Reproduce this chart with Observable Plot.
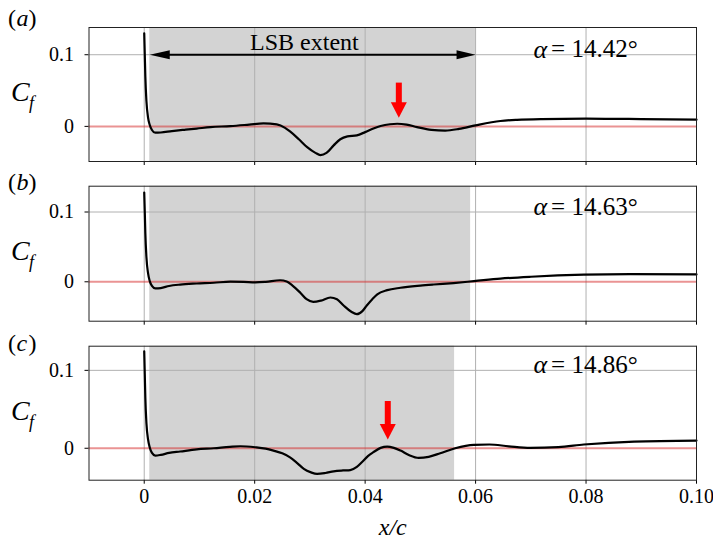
<!DOCTYPE html>
<html><head><meta charset="utf-8">
<script src="https://cdn.jsdelivr.net/npm/d3@7"></script>
<script src="https://cdn.jsdelivr.net/npm/@observablehq/plot@0.6"></script>
<style>
body{margin:0;background:#fff;}
#chart{width:713px;}
#chart svg{display:block;}
</style></head><body><div id="chart"></div>
<script>
// ---- data ----
const xA = [0,0.0001,0.0002,0.0004,0.0007,0.001,0.0014,0.002,0.003,0.005,0.0075,0.0095,0.012,0.0156,0.019,0.0216,0.024,0.0255,0.0264,0.028,0.0295,0.031,0.0319,0.033,0.0343,0.0355,0.0368,0.0385,0.040,0.0415,0.0428,0.0445,0.0458,0.0475,0.0494,0.052,0.0545,0.057,0.060,0.0645,0.0675,0.072,0.080,0.090,0.100];
const cfA = [0.130,0.10,0.07,0.035,0.012,0.002,-0.005,-0.0088,-0.0085,-0.0065,-0.0045,-0.003,-0.001,0.0004,0.0025,0.0042,0.0028,-0.002,-0.007,-0.018,-0.029,-0.037,-0.0400,-0.037,-0.0265,-0.018,-0.014,-0.0125,-0.008,-0.003,0.0005,0.003,0.0037,0.0025,-0.001,-0.0048,-0.0058,-0.0035,0.0014,0.0075,0.0092,0.0102,0.0107,0.0102,0.0093];

const xB = [0,0.0001,0.0002,0.0004,0.0007,0.001,0.0014,0.002,0.003,0.0045,0.0065,0.0095,0.0126,0.0156,0.018,0.0201,0.022,0.0246,0.0258,0.0268,0.0283,0.0294,0.0306,0.032,0.0337,0.0349,0.0361,0.0375,0.0385,0.0395,0.0403,0.0413,0.0422,0.044,0.0464,0.050,0.0524,0.056,0.0597,0.0645,0.070,0.0796,0.088,0.100];
const cfB = [0.128,0.10,0.07,0.035,0.012,0.001,-0.006,-0.0095,-0.009,-0.006,-0.004,-0.0025,-0.0014,0.0003,0.0,-0.0008,0.0,0.0022,0.0005,-0.005,-0.016,-0.025,-0.0288,-0.027,-0.0225,-0.025,-0.034,-0.043,-0.0465,-0.042,-0.034,-0.025,-0.018,-0.012,-0.0086,-0.0055,-0.0039,-0.0018,0.0009,0.0045,0.0072,0.0102,0.011,0.0105];

const xC = [0,0.0001,0.0002,0.0004,0.0007,0.001,0.0014,0.002,0.003,0.0045,0.0065,0.0095,0.0126,0.0155,0.0174,0.0201,0.022,0.0234,0.025,0.0264,0.0277,0.0289,0.0302,0.0313,0.0328,0.0343,0.036,0.0373,0.0385,0.0394,0.0405,0.0415,0.0428,0.044,0.0452,0.0464,0.048,0.0497,0.0515,0.0536,0.0563,0.0597,0.0625,0.066,0.0699,0.075,0.0796,0.0887,0.100];
const cfC = [0.1245,0.095,0.065,0.032,0.011,0.001,-0.006,-0.0094,-0.0085,-0.006,-0.0042,-0.0015,0.0,0.0018,0.0026,0.0013,-0.0005,-0.003,-0.0065,-0.0116,-0.019,-0.0265,-0.031,-0.033,-0.0318,-0.0296,-0.0285,-0.028,-0.024,-0.018,-0.010,-0.005,0.0005,0.0022,0.0005,-0.003,-0.009,-0.0124,-0.011,-0.0064,0.0,0.0044,0.0048,0.0025,0.0005,0.0015,0.0048,0.0086,0.0099];

const panelLetters = ["a","b","c"];
const alphaValues = ["14.42","14.63","14.86"];
const lsbStart = [0.001, 0.001, 0.001];
const lsbEnd = [0.06, 0.0591, 0.0562];
const yDomains = [[-0.049,0.138],[-0.0565,0.137],[-0.041,0.131]];
const xDomain = [-0.01, 0.10];
const xTicks = [0, 0.02, 0.04, 0.06, 0.08, 0.10];
const xTickLabels = ["0","0.02","0.04","0.06","0.08","0.10"];
const yTicks = [0, 0.1];
const yTickLabels = ["0","0.1"];
const redArrowX = [0.0461, null, 0.0441];
const redArrowTop = [0.0604, null, 0.060];
const redArrowTip = [0.0121, null, 0.0112];
const lsbArrowY = 0.1;
const lsbTextX = 0.029;
const lsbLabel = "LSB extent";
const alphaX = 0.08;
const alphaY = 0.1;
const xLabel = "x/c";

// ---- layout ----
const layout = [
  {height:170, marginTop:27, marginBottom:9, labelDy:-9},
  {height:155, marginTop:15.7, marginBottom:4.3, labelDy:-3.5},
  {height:216, marginTop:20.7, marginBottom:61.3, labelDy:-3}
];
const FONT = "Liberation Serif, Times New Roman, serif";

const headLeft = {draw(c){c.moveTo(0,0);c.lineTo(20,-4.5);c.lineTo(20,4.5);c.closePath();}};
const headRight = {draw(c){c.moveTo(0,0);c.lineTo(-19,-4.5);c.lineTo(-19,4.5);c.closePath();}};
const headDown = {draw(c){c.moveTo(0,0);c.lineTo(-8,-15.5);c.lineTo(8,-15.5);c.closePath();}};

const series = [[xA,cfA],[xB,cfB],[xC,cfC]];
const chart = document.getElementById("chart");

series.forEach(([xs, ys], i) => {
  const L = layout[i];
  const data = xs.map((x, j) => ({x, y: ys[j]}));
  const last = i === 2;
  const marks = [
    Plot.rect([0], {x1: () => lsbStart[i], x2: () => lsbEnd[i], y1: () => yDomains[i][0], y2: () => yDomains[i][1], fill: "#d3d3d3"}),
    Plot.ruleX(xTicks, {stroke: "#b0b0b0", strokeWidth: 1}),
    Plot.ruleY([yTicks[1]], {stroke: "#b0b0b0", strokeWidth: 1}),
    Plot.ruleY([yTicks[0]], {stroke: "#d62728", strokeOpacity: 0.5, strokeWidth: 2}),
    Plot.line(data, {x: "x", y: "y", curve: "monotone-x", stroke: "black", strokeWidth: 2.2}),
    Plot.frame({stroke: "#222", strokeWidth: 1}),
    // C_f label
    Plot.text(["C"], {frameAnchor: "left", lineAnchor: "middle", text: d => d, textAnchor: "start", dx: -78, dy: -2.5, fontStyle: "italic", fontSize: 28, fill: "black"}),
    Plot.text(["f"], {frameAnchor: "left", lineAnchor: "middle", text: d => d, textAnchor: "start", dx: -60, dy: 9, fontStyle: "italic", fontSize: 18, fill: "black"}),
    // panel letter
    Plot.text(["("], {frameAnchor: "top-left", lineAnchor: "middle", text: d => d, textAnchor: "start", dx: -81, dy: L.labelDy, fontSize: 24, fill: "black"}),
    Plot.text([panelLetters[i]], {frameAnchor: "top-left", lineAnchor: "middle", text: d => d, textAnchor: "start", dx: -72.5, dy: L.labelDy, fontSize: 24, fontStyle: "italic", fill: "black"}),
    Plot.text([")"], {frameAnchor: "top-left", lineAnchor: "middle", text: d => d, textAnchor: "start", dx: -60.5, dy: L.labelDy, fontSize: 24, fill: "black"}),
    // alpha label
    Plot.text([0], {x: () => alphaX, y: () => alphaY, text: () => "α", textAnchor: "end", dx: -39, dy: -5.5, fontSize: 26, fontStyle: "italic", fill: "black"}),
    Plot.text([0], {x: () => alphaX, y: () => alphaY, text: () => "= " + alphaValues[i] + "°", textAnchor: "start", dx: -35, dy: -5.5, fontSize: 25, fill: "black"})
  ];
  if (i === 0) {
    marks.push(
      Plot.ruleY([lsbArrowY], {x1: lsbStart[0] + 0.002, x2: lsbEnd[0] - 0.002, stroke: "black", strokeWidth: 2}),
      Plot.dot([0], {x: () => lsbStart[0], y: () => lsbArrowY, symbol: headLeft, fill: "black", stroke: "none"}),
      Plot.dot([0], {x: () => lsbEnd[0], y: () => lsbArrowY, symbol: headRight, fill: "black", stroke: "none"}),
      Plot.text([lsbLabel], {x: () => lsbTextX, y: () => lsbArrowY, text: d => d, dy: -12, fontSize: 24, fill: "black"})
    );
  }
  if (redArrowX[i] != null) {
    marks.push(
      Plot.ruleX([0], {x: () => redArrowX[i], y1: () => redArrowTop[i], y2: () => redArrowTip[i], stroke: "red", strokeWidth: 6, insetBottom: 14}),
      Plot.dot([0], {x: () => redArrowX[i], y: () => redArrowTip[i], symbol: headDown, fill: "red", stroke: "none"})
    );
  }
  if (last) {
    marks.push(Plot.text([xLabel], {frameAnchor: "bottom", lineAnchor: "middle", text: d => d, dy: 47, fontSize: 24, fontStyle: "italic", fill: "black"}));
  }
  const svg = Plot.plot({
    width: 713,
    height: L.height,
    marginLeft: 88.5,
    marginRight: 17,
    marginTop: L.marginTop,
    marginBottom: L.marginBottom,
    style: {fontFamily: FONT, fontSize: "20px", background: "white", color: "black", overflow: "visible"},
    x: {domain: xDomain, ticks: xTicks, tickSize: 4, tickPadding: 5, label: null,
        tickFormat: last ? (d => xTickLabels[xTicks.indexOf(d)]) : (() => "")},
    y: {domain: yDomains[i], ticks: yTicks, tickSize: 4, tickPadding: 11, label: null,
        tickFormat: d => yTickLabels[yTicks.indexOf(d)]},
    marks
  });
  chart.appendChild(svg);
});
</script></body></html>
